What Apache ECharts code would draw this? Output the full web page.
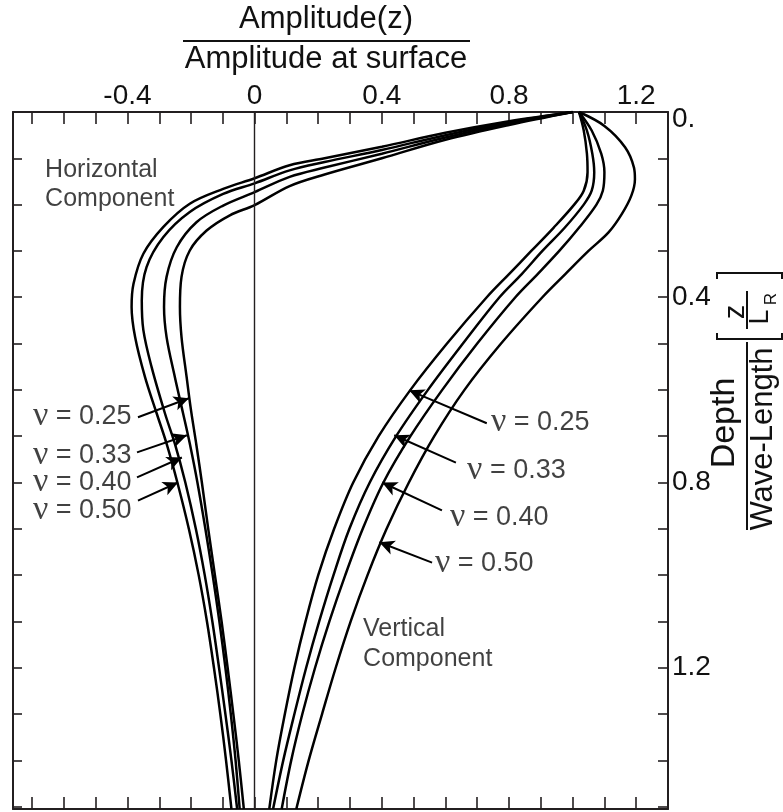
<!DOCTYPE html>
<html><head><meta charset="utf-8">
<script src="https://cdn.jsdelivr.net/npm/echarts@6/dist/echarts.min.js"></script>
<style>html,body{margin:0;padding:0;background:#fff}#c{width:783px;height:812px}</style>
</head><body><div id="c"></div>
<script>
// ---- axis ticks / labels ----
const xTickValues = [-0.7,-0.6,-0.5,-0.4,-0.3,-0.2,-0.1,0,0.1,0.2,0.3,0.4,0.5,0.6,0.7,0.8,0.9,1.0,1.1,1.2];
const xLabelValues = [-0.4,0,0.4,0.8,1.2];
const yTickValues = [0.1,0.2,0.3,0.4,0.5,0.6,0.7,0.8,0.9,1.0,1.1,1.2,1.3,1.4,1.5];
const yLabelValues = [0,0.4,0.8,1.2];

// ---- Horizontal component curves [amplitude, depth] ----
const hNu025 = [[1,0],[0.8,0.028],[0.6,0.06],[0.4,0.1],[0.22,0.135],[0.11,0.16],[0,0.201],[-0.078,0.223],[-0.151,0.256],[-0.204,0.299],[-0.23,0.356],[-0.235,0.421],[-0.23,0.486],[-0.214,0.572],[-0.201,0.64],[-0.183,0.72],[-0.166,0.8],[-0.146,0.9],[-0.125,1.0],[-0.104,1.1],[-0.085,1.2],[-0.067,1.3],[-0.05,1.4],[-0.034,1.505]];
const hNu033 = [[1,0],[0.8,0.025],[0.6,0.055],[0.4,0.09],[0.22,0.12],[0.11,0.14],[0,0.173],[-0.099,0.202],[-0.183,0.238],[-0.245,0.292],[-0.277,0.356],[-0.285,0.421],[-0.277,0.486],[-0.251,0.572],[-0.225,0.651],[-0.204,0.716],[-0.18,0.8],[-0.155,0.9],[-0.132,1.0],[-0.111,1.1],[-0.092,1.2],[-0.075,1.3],[-0.06,1.4],[-0.047,1.505]];
const hNu040 = [[1,0],[0.8,0.022],[0.6,0.05],[0.4,0.082],[0.22,0.108],[0.11,0.126],[0,0.154],[-0.099,0.177],[-0.204,0.216],[-0.287,0.27],[-0.34,0.335],[-0.355,0.407],[-0.35,0.471],[-0.324,0.551],[-0.282,0.651],[-0.251,0.716],[-0.218,0.8],[-0.185,0.9],[-0.157,1.0],[-0.133,1.1],[-0.112,1.2],[-0.092,1.3],[-0.073,1.4],[-0.055,1.505]];
const hNu050 = [[1,0],[0.8,0.02],[0.6,0.045],[0.4,0.075],[0.22,0.1],[0.11,0.115],[0,0.143],[-0.099,0.166],[-0.204,0.198],[-0.287,0.248],[-0.35,0.306],[-0.381,0.371],[-0.387,0.421],[-0.376,0.486],[-0.345,0.572],[-0.308,0.651],[-0.277,0.716],[-0.243,0.8],[-0.207,0.9],[-0.176,1.0],[-0.15,1.1],[-0.128,1.2],[-0.108,1.3],[-0.09,1.4],[-0.073,1.505]];

// ---- Vertical component curves [amplitude, depth] ----
const vNu025 = [[1.02,0],[1.035,0.04],[1.045,0.09],[1.047,0.13],[1.035,0.17],[1.005,0.2],[0.94,0.25],[0.87,0.3],[0.8,0.35],[0.73,0.4],[0.605,0.5],[0.49,0.6],[0.39,0.7],[0.31,0.8],[0.25,0.9],[0.2,1.0],[0.16,1.1],[0.125,1.2],[0.095,1.3],[0.068,1.4],[0.046,1.505]];
const vNu033 = [[1.02,0],[1.045,0.04],[1.062,0.09],[1.068,0.13],[1.06,0.17],[1.035,0.2],[0.975,0.25],[0.905,0.3],[0.84,0.35],[0.77,0.4],[0.655,0.5],[0.545,0.6],[0.445,0.7],[0.362,0.8],[0.298,0.9],[0.248,1.0],[0.203,1.1],[0.162,1.2],[0.125,1.3],[0.09,1.4],[0.058,1.505]];
const vNu040 = [[1.02,0],[1.06,0.04],[1.09,0.09],[1.1,0.13],[1.095,0.17],[1.075,0.2],[1.02,0.25],[0.958,0.3],[0.89,0.35],[0.82,0.4],[0.7,0.5],[0.59,0.6],[0.49,0.7],[0.405,0.8],[0.34,0.9],[0.285,1.0],[0.235,1.1],[0.19,1.2],[0.15,1.3],[0.115,1.4],[0.085,1.505]];
const vNu050 = [[1.02,0],[1.1,0.03],[1.165,0.076],[1.193,0.12],[1.196,0.145],[1.185,0.18],[1.155,0.22],[1.113,0.26],[1.05,0.3],[0.977,0.35],[0.905,0.4],[0.775,0.5],[0.66,0.6],[0.565,0.7],[0.485,0.8],[0.415,0.9],[0.355,1.0],[0.302,1.1],[0.255,1.2],[0.212,1.3],[0.17,1.4],[0.131,1.505]];

// ---- annotations (data coordinates) ----
const nuValues = ['0.25','0.33','0.40','0.50'];
const hArrowTails = [[-0.367,0.659],[-0.370,0.735],[-0.370,0.789],[-0.367,0.839]];
const hArrowTips  = [[-0.207,0.618],[-0.213,0.698],[-0.229,0.746],[-0.241,0.800]];
const hLabelAt    = [[-0.387,0.657],[-0.387,0.741],[-0.387,0.800],[-0.387,0.860]];
const vArrowTails = [[0.730,0.672],[0.633,0.757],[0.589,0.860],[0.558,0.973]];
const vArrowTips  = [[0.486,0.601],[0.439,0.698],[0.401,0.800],[0.392,0.929]];
const vLabelAt    = [[0.743,0.670],[0.668,0.774],[0.614,0.875],[0.567,0.975]];
const hCompText = ['Horizontal','Component'];
const hCompAt = [-0.659,0.157];
const vCompText = ['Vertical','Component'];
const vCompAt = [0.341,1.148];

const INK = '#111';
const FF = "'Liberation Sans', Arial, Helvetica, sans-serif";

const chart = echarts.init(document.getElementById('c'), null, {renderer:'canvas'});

function curve(data, extra) {
  return Object.assign({
    type:'line', data: data, showSymbol:false, symbol:'none', smooth:0.35,
    xAxisIndex:0, yAxisIndex:0, silent:true, z:3,
    lineStyle:{color:'#000', width:2.5}
  }, extra || {});
}

const nuRich = {
  nu:{fontFamily:"'Liberation Serif','DejaVu Serif',serif", fontSize:34, color:INK},
  t:{fontFamily:FF, fontSize:27, color:INK}
};

const labelData = [];
nuValues.forEach((v,i)=>{
  labelData.push({value:hLabelAt[i], label:{show:true, position:'left', distance:0, color:INK, formatter:'{nu|ν}{t| = '+v+'}', rich:nuRich}});
  labelData.push({value:vLabelAt[i], label:{show:true, position:'right', distance:0, color:INK, formatter:'{nu|ν}{t| = '+v+'}', rich:nuRich}});
});
labelData.push({value:hCompAt, label:{show:true, position:'right', distance:0, formatter:hCompText.join('\n'), fontFamily:FF, fontSize:25, lineHeight:29, color:INK}});
labelData.push({value:vCompAt, label:{show:true, position:'right', distance:0, formatter:vCompText.join('\n'), fontFamily:FF, fontSize:25, lineHeight:30, color:INK}});

const arrowData = [];
nuValues.forEach((v,i)=>{
  arrowData.push([{coord:hArrowTails[i]},{coord:hArrowTips[i]}]);
  arrowData.push([{coord:vArrowTails[i]},{coord:vArrowTips[i]}]);
});

const axisCommon = {
  type:'value', splitLine:{show:false},
  axisLine:{show:true, onZero:false, lineStyle:{color:'#231f20', width:2}},
};

const option = {
  animation:false,
  backgroundColor:'#fff',
  grid:{left:13, right:115, top:112, bottom:3, containLabel:false, outerBoundsMode:'none'},
  xAxis:[
    Object.assign({}, axisCommon, {position:'top', min:-0.76, max:1.3,
      axisTick:{show:true, inside:true, length:12, customValues:xTickValues, lineStyle:{color:'#231f20', width:1.6}},
      axisLabel:{show:true, customValues:xLabelValues, margin:2, fontFamily:FF, fontSize:28, color:INK,
        formatter:v=> v===0 ? '0' : v.toFixed(1)}}),
    Object.assign({}, axisCommon, {position:'bottom', min:-0.76, max:1.3,
      axisTick:{show:true, inside:true, length:12, customValues:xTickValues, lineStyle:{color:'#231f20', width:1.6}},
      axisLabel:{show:false}})
  ],
  yAxis:[
    Object.assign({}, axisCommon, {position:'left', inverse:true, min:0, max:1.505,
      axisTick:{show:true, inside:true, length:9, customValues:yTickValues, lineStyle:{color:'#231f20', width:1.6}},
      axisLabel:{show:false}}),
    Object.assign({}, axisCommon, {position:'right', inverse:true, min:0, max:1.505,
      axisTick:{show:true, inside:true, length:10, customValues:yTickValues, lineStyle:{color:'#231f20', width:1.6}},
      axisLabel:{show:true, customValues:yLabelValues, margin:4, fontFamily:FF, fontSize:28, color:INK,
        formatter:v=> v===0 ? '{o|0.}' : v.toFixed(1),
        rich:{o:{fontFamily:FF, fontSize:28, color:INK, padding:[14,0,0,0]}}}})
  ],
  series:[
    curve(hNu025, {markLine:{silent:true, symbol:'none', label:{show:false},
      lineStyle:{color:'#231f20', width:1.4, type:'solid'}, data:[{xAxis:0}]}}),
    curve(hNu033), curve(hNu040), curve(hNu050),
    curve(vNu025), curve(vNu033), curve(vNu040), curve(vNu050),
    {type:'scatter', xAxisIndex:0, yAxisIndex:0, symbolSize:0, silent:true, z:5, data:labelData,
     markLine:{silent:true, symbol:['none','arrow'], symbolSize:[11,15], label:{show:false},
       lineStyle:{color:'#000', width:2, type:'solid'}, data:arrowData}}
  ],
  graphic:[
    {type:'text', x:326, y:19, style:{text:'Amplitude(z)', fontFamily:FF, fontSize:31, fill:INK, align:'center', verticalAlign:'middle'}},
    {type:'line', shape:{x1:183, y1:41, x2:470, y2:41}, style:{stroke:INK, lineWidth:2}},
    {type:'text', x:326, y:59, style:{text:'Amplitude at surface', fontFamily:FF, fontSize:31, fill:INK, align:'center', verticalAlign:'middle'}},
    {type:'group', x:747, y:436, rotation:Math.PI/2, children:[
      {type:'text', x:13, y:-22, style:{text:'Depth', fontFamily:FF, fontSize:34, fill:INK, align:'center', verticalAlign:'middle'}},
      {type:'line', shape:{x1:-94, y1:0, x2:94, y2:0}, style:{stroke:INK, lineWidth:2}},
      {type:'text', x:-3, y:16, style:{text:'Wave-Length', fontFamily:FF, fontSize:31, fill:INK, align:'center', verticalAlign:'middle'}},
      {type:'polyline', shape:{points:[[103,-30],[97,-30],[97,35],[103,35]]}, style:{stroke:INK, lineWidth:2, fill:null}},
      {type:'text', x:124, y:-11, style:{text:'z', fontFamily:FF, fontSize:29, fill:INK, align:'center', verticalAlign:'middle'}},
      {type:'line', shape:{x1:107, y1:0, x2:145, y2:0}, style:{stroke:INK, lineWidth:2}},
      {type:'text', x:119, y:14, style:{text:'L', fontFamily:FF, fontSize:27, fill:INK, align:'center', verticalAlign:'middle'}},
      {type:'text', x:137, y:24, style:{text:'R', fontFamily:FF, fontSize:17, fill:INK, align:'center', verticalAlign:'middle'}},
      {type:'polyline', shape:{points:[[157,-30],[163,-30],[163,35],[157,35]]}, style:{stroke:INK, lineWidth:2, fill:null}}
    ]}
  ]
};
chart.setOption(option);
</script>
</body></html>
